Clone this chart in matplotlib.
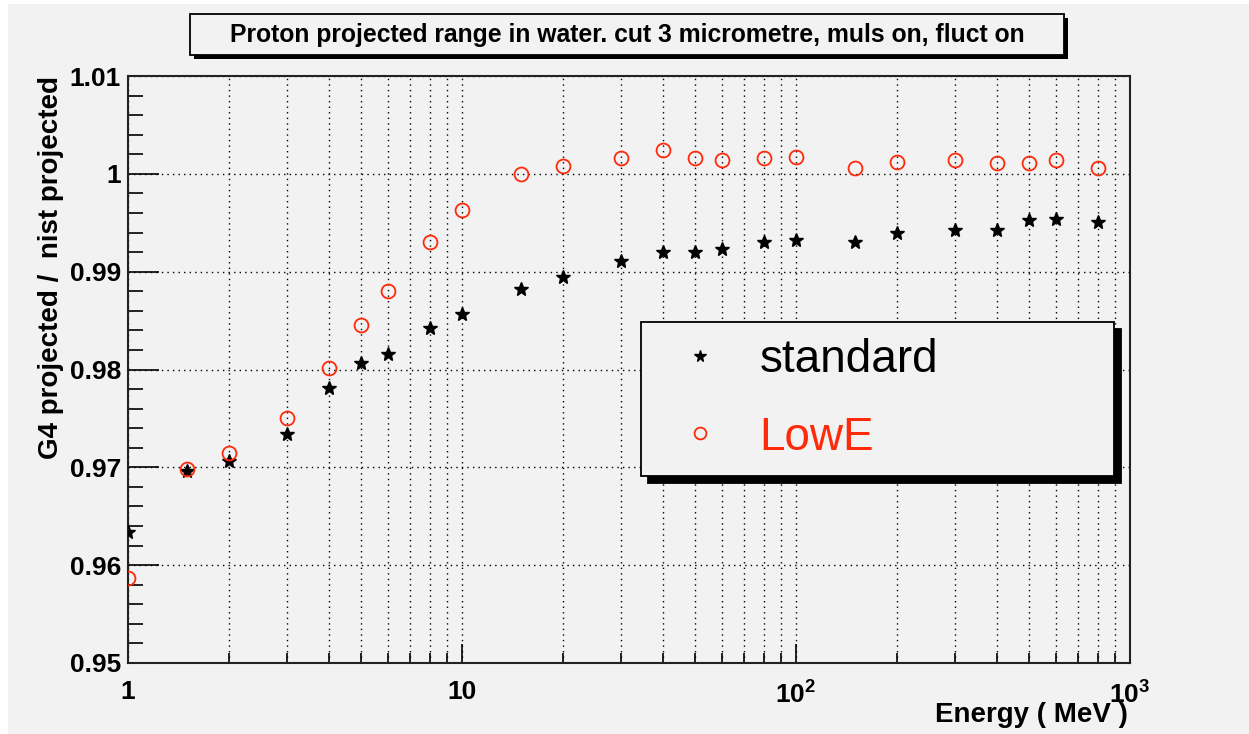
import matplotlib
matplotlib.use('Agg')
import matplotlib.pyplot as plt
from matplotlib.patches import Rectangle
from matplotlib.ticker import FuncFormatter, MultipleLocator

plt.rcParams['font.family'] = ['Liberation Sans', 'DejaVu Sans']
plt.rcParams['mathtext.fontset'] = 'custom'
plt.rcParams['mathtext.rm'] = 'Liberation Sans:bold'
plt.rcParams['mathtext.bf'] = 'Liberation Sans:bold'

BG = '#f2f2f2'
RED = '#ff2a0a'

energy = [1, 1.5, 2, 3, 4, 5, 6, 8, 10, 15, 20, 30, 40, 50, 60, 80,
          100, 150, 200, 300, 400, 500, 600, 800]
standard = [0.9634, 0.9696, 0.9706, 0.9734, 0.9781, 0.9807, 0.9816, 0.9842,
            0.9857, 0.9882, 0.9895, 0.9911, 0.9920, 0.9920, 0.9923, 0.9930,
            0.9932, 0.9930, 0.9940, 0.9943, 0.9943, 0.9953, 0.9954, 0.9951]
lowe = [0.9587, 0.9698, 0.9715, 0.9750, 0.9802, 0.9845, 0.9880, 0.9930,
        0.9963, 1.0000, 1.0008, 1.0016, 1.0024, 1.0016, 1.0014, 1.0016,
        1.0017, 1.0006, 1.0012, 1.0014, 1.0011, 1.0011, 1.0014, 1.0006]

x_ticks = [1, 10, 100, 1000]
x_ticklabels = ['1', '10', r'$10^{2}$', r'$10^{3}$']

title = 'Proton projected range in water. cut 3 micrometre, muls on, fluct on'
x_title = 'Energy ( MeV )'
y_title = 'G4 projected /  nist projected'


fig = plt.figure(figsize=(12.49, 7.34), dpi=100, facecolor='white')
# grey pad like the ROOT canvas
fig.patches.append(Rectangle((8 / 1249, 0), 1, 1 - 4 / 734, transform=fig.transFigure,
                             facecolor=BG, edgecolor='none', zorder=-10))

ax = fig.add_axes([128 / 1249, 1 - 663 / 734, 1002 / 1249, 587 / 734])
ax.set_facecolor(BG)

ax.plot(energy, standard, linestyle='none', marker='*', markersize=10,
        color='black', label='standard', zorder=3)
ax.plot(energy, lowe, linestyle='none', marker='o', markersize=10,
        markerfacecolor='none', markeredgecolor=RED, markeredgewidth=1.3,
        label='LowE', zorder=3)

ax.set_xscale('log')
ax.set_xlim(1, 1000)
ax.set_ylim(0.95, 1.01)

ax.set_xticks(x_ticks, labels=x_ticklabels)
ax.yaxis.set_major_locator(MultipleLocator(0.01))
ax.yaxis.set_minor_locator(MultipleLocator(0.002))
ax.yaxis.set_major_formatter(FuncFormatter(lambda v, p: '%g' % round(v, 3)))

ax.tick_params(axis='both', which='both', direction='in', color='black', width=1.2)
ax.tick_params(axis='y', which='major', length=22, pad=5)
ax.tick_params(axis='y', which='minor', length=11)
ax.tick_params(axis='x', which='major', length=14, pad=12)
ax.tick_params(axis='x', which='minor', length=7)
for lab in ax.get_xticklabels() + ax.get_yticklabels():
    lab.set_fontsize(19)
    lab.set_fontweight('bold')

ax.grid(True, axis='x', which='both', color='black', linestyle=(0, (1, 3)), linewidth=1)
ax.grid(True, axis='y', which='major', color='black', linestyle=(0, (1, 3)), linewidth=1)
ax.set_axisbelow(True)

for sp in ax.spines.values():
    sp.set_linewidth(1.5)
    sp.set_color('#222222')

ax.set_xlabel(x_title, fontsize=20, fontweight='bold', loc='right')
ax.xaxis.set_label_coords(0.998, -0.066)
ax.set_ylabel(y_title, fontsize=20, fontweight='bold', loc='top')
ax.yaxis.set_label_coords(-0.064, 1.0)

leg = ax.legend(loc='lower left', bbox_to_anchor=(641 / 1249, 1 - 476 / 734, 473 / 1249, 154 / 734),
                bbox_transform=fig.transFigure, mode='expand', fontsize=33,
                frameon=True, fancybox=False, facecolor=BG, edgecolor='black', framealpha=1,
                borderpad=0.36, labelspacing=0.72, handlelength=1.85, handletextpad=0.37,
                borderaxespad=0, markerscale=0.85,
                shadow={'ox': 5, 'oy': -5, 'color': 'black', 'alpha': 1})
leg.get_frame().set_linewidth(1.3)
leg.get_texts()[1].set_color(RED)

# title box with shadow
fig.patches.append(Rectangle((194 / 1249, 1 - 59 / 734), 874 / 1249, 41 / 734,
                             transform=fig.transFigure, facecolor='black', edgecolor='none'))
fig.patches.append(Rectangle((190 / 1249, 1 - 55 / 734), 874 / 1249, 41 / 734,
                             transform=fig.transFigure, facecolor=BG, edgecolor='black',
                             linewidth=1.3))
fig.text(627 / 1249, 1 - 35 / 734, title, ha='center', va='center', fontsize=17.8,
         fontweight='bold')

fig.savefig('out.png', dpi=100, facecolor=fig.get_facecolor())
